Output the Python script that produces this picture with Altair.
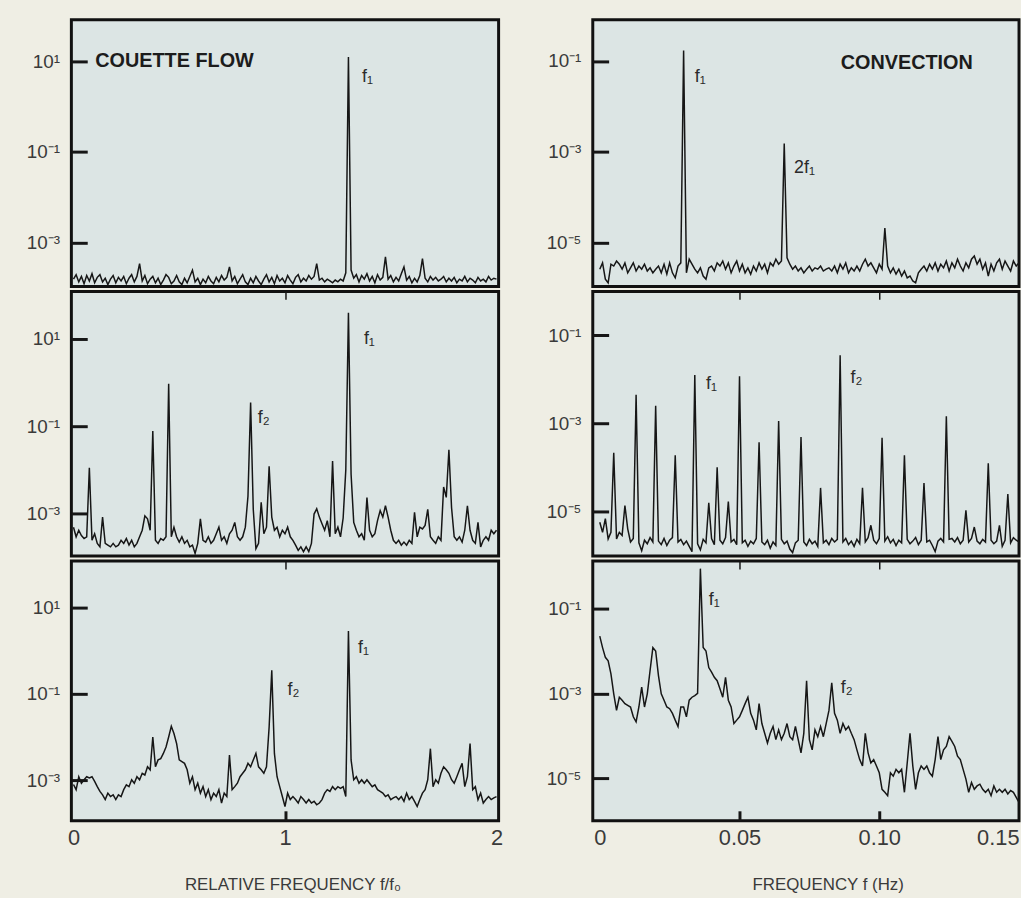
import altair as alt
import pandas as pd

# ---------------- data (log10 of spectral power, uniform frequency bins) ----------------
LEFT_STEP = 0.0125    # relative frequency f/f0 per bin
RIGHT_STEP = 0.001    # Hz per bin

couette_top = [
    -3.80, -3.70, -3.86, -3.74, -3.90, -3.72, -3.84, -3.68, -3.88, -3.76,
    -3.70, -3.86, -3.78, -3.92, -3.80, -3.72, -3.88, -3.76, -3.84, -3.74,
    -3.90, -3.78, -3.70, -3.86, -3.74, -3.46, -3.84, -3.72, -3.90, -3.80,
    -3.74, -3.88, -3.78, -3.92, -3.82, -3.70, -3.76, -3.90, -3.84, -3.72,
    -3.86, -3.92, -3.78, -3.88, -3.74, -3.60, -3.86, -3.78, -3.92, -3.80,
    -3.88, -3.74, -3.84, -3.90, -3.76, -3.86, -3.72, -3.82, -3.76, -3.53,
    -3.84, -3.74, -3.90, -3.80, -3.70, -3.86, -3.92, -3.78, -3.88, -3.74,
    -3.84, -3.92, -3.80, -3.70, -3.86, -3.76, -3.90, -3.72, -3.84, -3.78,
    -3.88, -3.72, -3.82, -3.90, -3.76, -3.70, -3.86, -3.78, -3.84, -3.72,
    -3.80, -3.74, -3.46, -3.82, -3.78, -3.86, -3.80, -3.84, -3.88, -3.82,
    -3.86, -3.80, -3.84, -3.66, 1.09, -3.60, -3.78, -3.70, -3.86, -3.72,
    -3.80, -3.68, -3.84, -3.74, -3.88, -3.70, -3.82, -3.76, -3.31, -3.80,
    -3.72, -3.86, -3.76, -3.84, -3.68, -3.53, -3.82, -3.74, -3.88, -3.78,
    -3.86, -3.72, -3.35, -3.78, -3.86, -3.74, -3.82, -3.76, -3.84, -3.80,
    -3.74, -3.86, -3.78, -3.84, -3.76, -3.88, -3.80, -3.84, -3.74, -3.86,
    -3.78, -3.82, -3.88, -3.76, -3.84, -3.80, -3.86, -3.74, -3.82, -3.78,
    -3.80,
]

couette_mid = [
    -3.31, -3.53, -3.38, -3.50, -3.57, -3.53, -1.95, -3.61, -3.46, -3.68,
    -3.76, -3.08, -3.68, -3.72, -3.76, -3.68, -3.76, -3.72, -3.61, -3.68,
    -3.57, -3.72, -3.61, -3.76, -3.68, -3.53, -3.38, -3.05, -3.12, -3.38,
    -1.11, -3.61, -3.68, -3.57, -3.61, -3.53, -0.03, -3.53, -3.31, -3.53,
    -3.65, -3.53, -3.68, -3.61, -3.76, -3.72, -3.91, -3.68, -3.12, -3.61,
    -3.65, -3.53, -3.68, -3.61, -3.46, -3.31, -3.61, -3.53, -3.68, -3.46,
    -3.38, -3.20, -3.53, -3.61, -3.53, -3.31, -2.60, -0.46, -2.90, -3.80,
    -3.68, -2.74, -3.46, -3.31, -1.92, -3.08, -3.38, -3.31, -3.53, -3.38,
    -3.46, -3.31, -3.53, -3.61, -3.72, -3.84, -3.76, -3.87, -3.76, -3.87,
    -3.68, -3.01, -2.89, -3.08, -3.23, -3.38, -3.16, -3.53, -1.80, -3.46,
    -3.31, -3.53, -3.10, -2.00, 1.59, -2.10, -3.20, -3.38, -3.53, -3.46,
    -3.61, -2.63, -3.38, -3.53, -3.46, -3.16, -2.93, -3.08, -2.82, -3.08,
    -3.38, -3.61, -3.68, -3.61, -3.72, -3.65, -3.72, -3.61, -3.68, -2.97,
    -3.53, -3.31, -3.35, -3.27, -2.90, -3.53, -3.61, -3.68, -3.53, -3.61,
    -2.39, -2.63, -1.54, -2.86, -3.53, -3.61, -3.53, -3.65, -3.38, -2.82,
    -3.38, -3.61, -3.68, -3.20, -3.76, -3.61, -3.53, -3.61, -3.38, -3.46,
    -3.38,
]

couette_bot = [
    -3.10, -3.22, -2.92, -3.07, -2.99, -2.92, -2.95, -2.92, -3.03, -3.15,
    -3.26, -3.34, -3.45, -3.30, -3.38, -3.34, -3.45, -3.34, -3.38, -3.22,
    -3.11, -3.15, -2.99, -3.07, -2.92, -2.99, -2.84, -2.88, -2.69, -2.76,
    -2.00, -2.69, -2.53, -2.50, -2.38, -2.23, -2.00, -1.75, -1.92, -2.15,
    -2.53, -2.57, -2.61, -2.76, -3.07, -2.92, -3.22, -3.07, -3.30, -3.15,
    -3.38, -3.22, -3.45, -3.30, -3.38, -3.22, -3.53, -3.30, -3.38, -2.42,
    -3.22, -3.15, -3.07, -2.92, -2.84, -2.76, -2.61, -2.69, -2.53, -2.38,
    -2.69, -2.76, -2.84, -2.69, -1.77, -0.45, -2.38, -2.92, -3.15, -3.38,
    -3.61, -3.30, -3.45, -3.38, -3.45, -3.53, -3.38, -3.45, -3.53, -3.45,
    -3.53, -3.49, -3.57, -3.53, -3.45, -3.30, -3.22, -3.26, -3.15, -3.22,
    -3.15, -3.19, -3.15, -3.38, 0.46, -2.53, -2.99, -2.92, -3.07, -2.99,
    -3.07, -2.99, -3.07, -3.15, -3.11, -3.22, -3.26, -3.30, -3.38, -3.34,
    -3.45, -3.41, -3.38, -3.45, -3.38, -3.49, -3.30, -3.45, -3.38, -3.49,
    -3.61, -3.45, -3.30, -3.22, -2.99, -2.27, -3.15, -2.99, -3.07, -2.84,
    -2.69, -2.76, -2.84, -2.99, -3.07, -2.92, -2.76, -2.61, -3.15, -2.92,
    -2.15, -3.22, -3.15, -3.45, -3.30, -3.53, -3.45, -3.38, -3.45, -3.41,
    -3.38,
]

convection_top = [
    -5.59, -5.45, -5.81, -5.89, -5.48, -5.52, -5.41, -5.48, -5.59, -5.45,
    -5.67, -5.56, -5.45, -5.63, -5.52, -5.59, -5.48, -5.63, -5.56, -5.67,
    -5.59, -5.52, -5.67, -5.48, -5.70, -5.45, -5.67, -5.78, -5.52, -5.45,
    -0.77, -5.67, -5.37, -5.48, -5.59, -5.67, -5.56, -5.74, -5.81, -5.56,
    -5.52, -5.63, -5.45, -5.52, -5.41, -5.59, -5.45, -5.67, -5.52, -5.41,
    -5.63, -5.48, -5.67, -5.56, -5.70, -5.52, -5.63, -5.45, -5.59, -5.48,
    -5.67, -5.45, -5.52, -5.37, -5.48, -5.41, -2.82, -5.34, -5.48, -5.59,
    -5.52, -5.63, -5.56, -5.67, -5.59, -5.52, -5.63, -5.56, -5.59, -5.52,
    -5.63, -5.59, -5.56, -5.63, -5.52, -5.67, -5.48, -5.59, -5.45, -5.67,
    -5.56, -5.63, -5.52, -5.63, -5.48, -5.37, -5.52, -5.45, -5.56, -5.67,
    -5.48, -5.59, -4.68, -5.52, -5.67, -5.56, -5.70, -5.59, -5.74, -5.63,
    -5.78, -5.74, -5.85, -5.89, -5.67, -5.59, -5.52, -5.63, -5.48, -5.59,
    -5.45, -5.63, -5.48, -5.56, -5.41, -5.63, -5.45, -5.56, -5.37, -5.52,
    -5.63, -5.45, -5.56, -5.37, -5.30, -5.48, -5.37, -5.59, -5.45, -5.74,
    -5.48, -5.63, -5.45, -5.37, -5.59, -5.41, -5.52, -5.63, -5.41, -5.52,
    -5.45,
]

convection_mid = [
    -5.25, -5.48, -5.17, -5.63, -5.48, -3.67, -5.63, -5.48, -5.55, -4.87,
    -5.40, -5.70, -5.62, -2.35, -5.72, -5.90, -5.66, -5.74, -5.60, -5.70,
    -2.60, -5.68, -5.76, -5.62, -5.78, -5.66, -5.60, -3.73, -5.70, -5.64,
    -5.76, -5.68, -5.80, -5.92, -1.90, -5.74, -5.88, -5.64, -5.72, -4.81,
    -5.62, -5.76, -4.00, -5.66, -5.74, -5.60, -4.78, -5.70, -5.64, -5.76,
    -1.93, -5.72, -5.66, -5.80, -5.68, -5.74, -5.62, -3.43, -5.70, -5.76,
    -5.66, -5.84, -5.70, -5.78, -2.95, -5.64, -5.74, -5.68, -5.86, -5.94,
    -5.72, -5.66, -3.31, -5.70, -5.78, -5.64, -5.74, -5.68, -5.80, -4.47,
    -5.72, -5.66, -5.76, -5.62, -5.70, -5.64, -1.45, -5.70, -5.62, -5.76,
    -5.68, -5.80, -5.64, -5.74, -4.47, -5.70, -5.60, -5.32, -5.66, -5.74,
    -5.62, -3.33, -5.68, -5.58, -5.72, -5.64, -5.78, -5.66, -5.72, -3.73,
    -5.64, -5.74, -5.68, -5.60, -5.76, -5.66, -4.36, -5.70, -5.66, -5.78,
    -5.92, -5.68, -5.62, -5.70, -2.84, -5.64, -5.62, -5.70, -5.60, -5.74,
    -5.66, -4.98, -5.70, -5.62, -5.36, -5.68, -5.74, -5.64, -5.70, -3.91,
    -5.66, -5.74, -5.68, -5.32, -5.80, -5.66, -4.61, -5.72, -5.60, -5.66,
    -5.70,
]

convection_bot = [
    -1.65, -1.92, -2.15, -2.23, -2.54, -3.01, -3.40, -3.09, -3.16, -3.24,
    -3.28, -3.32, -3.55, -3.67, -3.32, -2.85, -3.32, -3.01, -2.46, -1.92,
    -2.00, -2.58, -3.01, -3.16, -3.32, -3.36, -3.47, -3.63, -3.78, -3.32,
    -3.32, -3.55, -3.16, -3.09, -3.05, -3.00, -0.06, -1.92, -2.00, -2.39,
    -2.50, -2.62, -2.70, -2.89, -3.09, -2.62, -3.16, -3.32, -3.71, -3.63,
    -3.55, -3.40, -3.24, -3.09, -3.47, -3.63, -3.86, -3.24, -3.71, -3.94,
    -4.17, -3.94, -3.78, -4.09, -3.86, -4.09, -3.94, -3.71, -4.02, -4.09,
    -3.78, -4.09, -4.40, -3.94, -2.70, -4.09, -4.33, -3.86, -4.02, -3.78,
    -4.02, -3.71, -3.40, -2.75, -3.47, -3.63, -3.94, -3.71, -3.86, -3.78,
    -3.94, -4.09, -4.33, -4.56, -4.71, -3.94, -4.40, -4.64, -4.56, -4.71,
    -4.87, -5.26, -5.33, -5.41, -4.87, -4.95, -4.79, -4.87, -4.79, -5.33,
    -4.64, -3.94, -4.71, -5.26, -4.87, -4.71, -4.79, -4.71, -4.87, -4.95,
    -4.56, -4.02, -4.56, -4.33, -4.25, -4.02, -4.13, -4.25, -4.48, -4.56,
    -4.79, -5.02, -5.33, -5.10, -5.26, -5.18, -5.14, -5.26, -5.33, -5.26,
    -5.41, -5.18, -5.33, -5.26, -5.33, -5.26, -5.37, -5.29, -5.33, -5.45,
    -5.57,
]

# visible log10 range (bottom, top) of each panel
couette_ranges = [[-3.96, 1.91], [-3.97, 2.08], [-3.94, 2.08]]
convection_ranges = [[-5.97, -0.09], [-6.02, 0.0], [-6.0, 0.12]]

LEFT_X_DOMAIN = [-0.01, 2.01]
RIGHT_X_DOMAIN = [-0.0025, 0.15]
LEFT_X_LABELS = [0, 1, 2]
RIGHT_X_LABELS = [0, 0.05, 0.10, 0.15]
LEFT_X_TICKS = [1]
RIGHT_X_TICKS = [0.05, 0.10]
LEFT_Y_TICKS = [10, 0.1, 0.001]
RIGHT_Y_TICKS = [0.1, 0.001, 0.00001]

# annotations: (x, log10 y, text)
couette_notes = [
    [(1.364, 0.65, "f₁")],
    [(1.373, 0.98, "f₁"), (0.871, -0.81, "f₂")],
    [(1.345, 0.06, "f₁"), (1.012, -0.91, "f₂")],
]
convection_notes = [
    [(0.034, -1.35, "f₁"), (0.0695, -3.37, "2f₁")],
    [(0.038, -2.11, "f₁"), (0.0897, -1.97, "f₂")],
    [(0.039, -0.79, "f₁"), (0.0862, -2.88, "f₂")],
]
couette_title = (0.103, 1.0, "COUETTE FLOW")
convection_title = (0.0862, -1.04, "CONVECTION")

PANEL_HEIGHTS = [269, 267, 262]
LEFT_WIDTH = 431
RIGHT_WIDTH = 430

FONT = "Liberation Sans"
INK = "#161616"
TEXT = "#3a3a3a"

Y_LABEL_EXPR = (
    "'10' + (round(log(datum.value)/LN10) == 1 ? '¹' : "
    "round(log(datum.value)/LN10) == -1 ? '⁻¹' : "
    "round(log(datum.value)/LN10) == -3 ? '⁻³' : '⁻⁵')"
)


def panel(values, step, x_domain, y_range, y_ticks, notes, title, height, width,
          position, x_labels, x_ticks, x_title, x_label_expr, title_x):
    df = pd.DataFrame({
        "f": [i * step for i in range(len(values))],
        "p": [10.0 ** v for v in values],
    })
    xs = alt.Scale(domain=x_domain, nice=False, zero=False)
    ys = alt.Scale(type="log", domain=[10.0 ** y_range[0], 10.0 ** y_range[1]], nice=False)

    y_axis = alt.Axis(
        values=y_ticks, orient="left", offset=-16, tickSize=16, tickWidth=3,
        tickColor=INK, domain=False, grid=False, labelExpr=Y_LABEL_EXPR,
        labelFont=FONT, labelFontSize=19, labelColor=TEXT, labelPadding=12,
        title=None,
    )
    if position == "bottom":
        line_x_axis = alt.Axis(
            values=x_labels, orient="bottom", ticks=False, tickSize=0, domain=False,
            grid=False, labelExpr=x_label_expr, labelFont=FONT, labelFontSize=22,
            labelColor=TEXT, labelPadding=7, title=x_title, titleFont=FONT,
            titleFontSize=17, titleFontWeight="normal", titleColor=TEXT,
            titlePadding=28, titleX=title_x, titleAlign="center",
        )
        note_x_axis = alt.Axis(
            values=x_ticks, orient="bottom", offset=-10, tickSize=10, tickWidth=3,
            tickColor=INK, labels=False, domain=False, grid=False, title=None,
        )
    else:
        line_x_axis = None
        note_x_axis = None

    line = alt.Chart(df).mark_line(color=INK, strokeWidth=1.5, clip=True).encode(
        x=alt.X("f:Q", scale=xs, axis=line_x_axis),
        y=alt.Y("p:Q", scale=ys, axis=y_axis),
    )

    ndf = pd.DataFrame(notes, columns=["x", "e", "label"])
    ndf["p"] = [10.0 ** v for v in ndf["e"]]
    note_layer = alt.Chart(ndf).mark_text(
        align="left", baseline="middle", font=FONT, fontSize=18, color="#2a2a2a"
    ).encode(
        x=alt.X("x:Q", scale=xs, axis=note_x_axis),
        y=alt.Y("p:Q", scale=ys, axis=None),
        text="label:N",
    )
    layers = [line, note_layer]

    if position != "top":
        top_axis = alt.Axis(
            values=x_ticks, orient="top", offset=-8, tickSize=8, tickWidth=1.5,
            tickColor=INK, labels=False, domain=False, grid=False, title=None,
        )
        tick_layer = alt.Chart(ndf).mark_text(opacity=0, text=" ").encode(
            x=alt.X("x:Q", scale=xs, axis=top_axis),
            y=alt.Y("p:Q", scale=ys, axis=None),
        )
        layers.append(tick_layer)

    if title is not None:
        tdf = pd.DataFrame([title], columns=["x", "e", "label"])
        tdf["p"] = [10.0 ** v for v in tdf["e"]]
        title_layer = alt.Chart(tdf).mark_text(
            align="left", baseline="middle", font=FONT, fontSize=20,
            fontWeight="bold", color="#1c1c1c",
        ).encode(
            x=alt.X("x:Q", scale=xs, axis=None),
            y=alt.Y("p:Q", scale=ys, axis=None),
            text="label:N",
        )
        layers.append(title_layer)

    return alt.layer(*layers).resolve_axis(x="independent", y="independent").properties(
        width=width, height=height
    )


positions = ["top", "middle", "bottom"]
left_panels = []
right_panels = []
for k, (cv, rv) in enumerate(zip([couette_top, couette_mid, couette_bot],
                                 [convection_top, convection_mid, convection_bot])):
    left_panels.append(panel(
        cv, LEFT_STEP, LEFT_X_DOMAIN, couette_ranges[k], LEFT_Y_TICKS,
        couette_notes[k], couette_title if k == 0 else None, PANEL_HEIGHTS[k],
        LEFT_WIDTH, positions[k], LEFT_X_LABELS, LEFT_X_TICKS,
        "RELATIVE FREQUENCY f/f₀", "format(datum.value, 'd')", 223,
    ))
    right_panels.append(panel(
        rv, RIGHT_STEP, RIGHT_X_DOMAIN, convection_ranges[k], RIGHT_Y_TICKS,
        convection_notes[k], convection_title if k == 0 else None, PANEL_HEIGHTS[k],
        RIGHT_WIDTH, positions[k], RIGHT_X_LABELS, RIGHT_X_TICKS,
        "FREQUENCY f (Hz)", "datum.value == 0 ? '0' : format(datum.value, '.2f')", 237,
    ))

left_col = alt.vconcat(*left_panels, spacing=0)
right_col = alt.vconcat(*right_panels, spacing=0)

chart = alt.hconcat(left_col, right_col, spacing=40).properties(
    background="#efeee4",
    padding={"left": 25, "top": 14, "right": 0, "bottom": 0},
).configure_view(
    stroke="#111111", strokeWidth=3, fill="#dce5e4"
)

chart.save("out.html", embed_options={"renderer": "svg", "actions": False})
